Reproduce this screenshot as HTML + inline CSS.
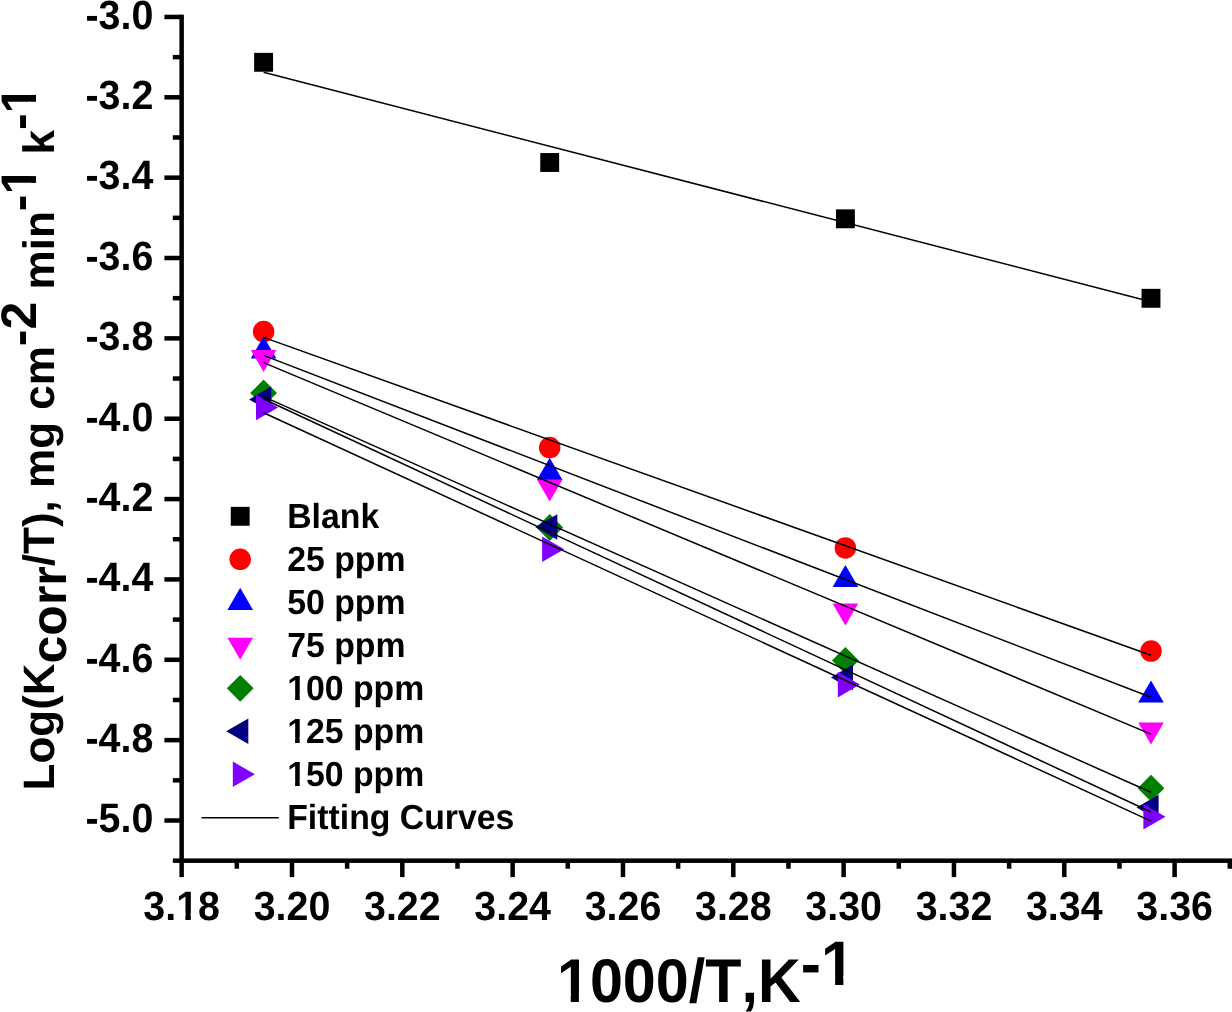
<!DOCTYPE html>
<html lang="en"><head><meta charset="utf-8"><title>Log(Kcorr/T) vs 1000/T</title>
<style>
html,body{margin:0;padding:0;background:#fff;}
body{width:1232px;height:1012px;overflow:hidden;}
svg{display:block;will-change:transform;}
text{font-family:"Liberation Sans", sans-serif;font-weight:bold;fill:#000;font-kerning:none;font-variant-ligatures:none;text-rendering:geometricPrecision;}
.tk{font-size:39.4px;}
.lg{font-size:33.8px;}
</style></head><body>
<svg width="1232" height="1012" viewBox="0 0 1232 1012">
<rect x="0" y="0" width="1232" height="1012" fill="#fff"/>
<g id="markers">
<rect x="254.15" y="52.85" width="18.90" height="18.90" fill="#000"/>
<rect x="540.25" y="153.05" width="18.90" height="18.90" fill="#000"/>
<rect x="835.95" y="209.35" width="18.90" height="18.90" fill="#000"/>
<rect x="1141.55" y="288.85" width="18.90" height="18.90" fill="#000"/>
<circle cx="263.60" cy="331.60" r="10.75" fill="#ff0000"/>
<circle cx="549.70" cy="447.60" r="10.75" fill="#ff0000"/>
<circle cx="845.40" cy="547.90" r="10.75" fill="#ff0000"/>
<circle cx="1151.00" cy="651.10" r="10.75" fill="#ff0000"/>
<polygon points="263.60,336.40 250.80,358.50 276.40,358.50" fill="#0000ff"/>
<polygon points="549.70,457.80 536.90,479.90 562.50,479.90" fill="#0000ff"/>
<polygon points="845.40,564.90 832.60,587.00 858.20,587.00" fill="#0000ff"/>
<polygon points="1151.00,680.50 1138.20,702.60 1163.80,702.60" fill="#0000ff"/>
<polygon points="263.60,372.10 250.80,350.00 276.40,350.00" fill="#ff00ff"/>
<polygon points="549.70,501.60 536.90,479.50 562.50,479.50" fill="#ff00ff"/>
<polygon points="845.40,625.60 832.60,603.50 858.20,603.50" fill="#ff00ff"/>
<polygon points="1151.00,744.60 1138.20,722.50 1163.80,722.50" fill="#ff00ff"/>
<polygon points="263.60,379.60 277.00,393.00 263.60,406.40 250.20,393.00" fill="#008000"/>
<polygon points="549.70,514.10 563.10,527.50 549.70,540.90 536.30,527.50" fill="#008000"/>
<polygon points="845.40,647.10 858.80,660.50 845.40,673.90 832.00,660.50" fill="#008000"/>
<polygon points="1151.00,774.80 1164.40,788.20 1151.00,801.60 1137.60,788.20" fill="#008000"/>
<polygon points="249.10,399.40 271.20,386.60 271.20,412.20" fill="#000080"/>
<polygon points="535.20,527.00 557.30,514.20 557.30,539.80" fill="#000080"/>
<polygon points="830.90,677.40 853.00,664.60 853.00,690.20" fill="#000080"/>
<polygon points="1136.50,807.50 1158.60,794.70 1158.60,820.30" fill="#000080"/>
<polygon points="278.10,407.40 256.00,394.60 256.00,420.20" fill="#8000ff"/>
<polygon points="564.20,549.30 542.10,536.50 542.10,562.10" fill="#8000ff"/>
<polygon points="859.90,684.60 837.80,671.80 837.80,697.40" fill="#8000ff"/>
<polygon points="1165.50,816.80 1143.40,804.00 1143.40,829.60" fill="#8000ff"/>
</g>
<g id="fits" stroke="#000" stroke-width="1.5" stroke-linecap="butt" fill="none">
<line x1="263.60" y1="72.20" x2="1151.00" y2="301.70"/>
<line x1="263.60" y1="337.40" x2="1151.00" y2="655.20"/>
<line x1="263.60" y1="355.40" x2="1151.00" y2="697.30"/>
<line x1="263.60" y1="362.60" x2="1151.00" y2="734.10"/>
<line x1="263.60" y1="396.60" x2="1151.00" y2="792.30"/>
<line x1="263.60" y1="399.00" x2="1151.00" y2="812.00"/>
<line x1="263.60" y1="412.80" x2="1151.00" y2="821.10"/>
</g>
<g id="axes" fill="#000">
<rect x="179.40" y="14.70" width="4.50" height="848.23"/>
<rect x="179.40" y="858.43" width="1052.60" height="4.50"/>
<rect x="164.40" y="14.70" width="17.25" height="4.50"/>
<rect x="172.80" y="54.88" width="8.85" height="4.50"/>
<rect x="164.40" y="95.06" width="17.25" height="4.50"/>
<rect x="172.80" y="135.23" width="8.85" height="4.50"/>
<rect x="164.40" y="175.41" width="17.25" height="4.50"/>
<rect x="172.80" y="215.59" width="8.85" height="4.50"/>
<rect x="164.40" y="255.76" width="17.25" height="4.50"/>
<rect x="172.80" y="295.94" width="8.85" height="4.50"/>
<rect x="164.40" y="336.12" width="17.25" height="4.50"/>
<rect x="172.80" y="376.30" width="8.85" height="4.50"/>
<rect x="164.40" y="416.48" width="17.25" height="4.50"/>
<rect x="172.80" y="456.65" width="8.85" height="4.50"/>
<rect x="164.40" y="496.83" width="17.25" height="4.50"/>
<rect x="172.80" y="537.01" width="8.85" height="4.50"/>
<rect x="164.40" y="577.19" width="17.25" height="4.50"/>
<rect x="172.80" y="617.36" width="8.85" height="4.50"/>
<rect x="164.40" y="657.54" width="17.25" height="4.50"/>
<rect x="172.80" y="697.72" width="8.85" height="4.50"/>
<rect x="164.40" y="737.90" width="17.25" height="4.50"/>
<rect x="172.80" y="778.07" width="8.85" height="4.50"/>
<rect x="164.40" y="818.25" width="17.25" height="4.50"/>
<rect x="172.80" y="858.43" width="8.85" height="4.50"/>
<rect x="179.40" y="860.68" width="4.50" height="16.45"/>
<rect x="234.56" y="860.68" width="4.50" height="8.05"/>
<rect x="289.73" y="860.68" width="4.50" height="16.45"/>
<rect x="344.89" y="860.68" width="4.50" height="8.05"/>
<rect x="400.06" y="860.68" width="4.50" height="16.45"/>
<rect x="455.23" y="860.68" width="4.50" height="8.05"/>
<rect x="510.39" y="860.68" width="4.50" height="16.45"/>
<rect x="565.55" y="860.68" width="4.50" height="8.05"/>
<rect x="620.72" y="860.68" width="4.50" height="16.45"/>
<rect x="675.88" y="860.68" width="4.50" height="8.05"/>
<rect x="731.05" y="860.68" width="4.50" height="16.45"/>
<rect x="786.21" y="860.68" width="4.50" height="8.05"/>
<rect x="841.38" y="860.68" width="4.50" height="16.45"/>
<rect x="896.54" y="860.68" width="4.50" height="8.05"/>
<rect x="951.71" y="860.68" width="4.50" height="16.45"/>
<rect x="1006.88" y="860.68" width="4.50" height="8.05"/>
<rect x="1062.04" y="860.68" width="4.50" height="16.45"/>
<rect x="1117.20" y="860.68" width="4.50" height="8.05"/>
<rect x="1172.37" y="860.68" width="4.50" height="16.45"/>
<rect x="1227.54" y="860.68" width="4.50" height="8.05"/>
</g>
<g id="ylabels" class="tk" text-anchor="end">
<text transform="translate(153.3,28.75) scale(1,1.04)">-3.0</text>
<text transform="translate(153.3,109.11) scale(1,1.04)">-3.2</text>
<text transform="translate(153.3,189.46) scale(1,1.04)">-3.4</text>
<text transform="translate(153.3,269.81) scale(1,1.04)">-3.6</text>
<text transform="translate(153.3,350.17) scale(1,1.04)">-3.8</text>
<text transform="translate(153.3,430.53) scale(1,1.04)">-4.0</text>
<text transform="translate(153.3,510.88) scale(1,1.04)">-4.2</text>
<text transform="translate(153.3,591.24) scale(1,1.04)">-4.4</text>
<text transform="translate(153.3,671.59) scale(1,1.04)">-4.6</text>
<text transform="translate(153.3,751.95) scale(1,1.04)">-4.8</text>
<text transform="translate(153.3,832.30) scale(1,1.04)">-5.0</text>
</g>
<g id="xlabels" class="tk" text-anchor="middle">
<text transform="translate(181.65,919.9) scale(1,1.04)">3.18</text>
<text transform="translate(291.98,919.9) scale(1,1.04)">3.20</text>
<text transform="translate(402.31,919.9) scale(1,1.04)">3.22</text>
<text transform="translate(512.64,919.9) scale(1,1.04)">3.24</text>
<text transform="translate(622.97,919.9) scale(1,1.04)">3.26</text>
<text transform="translate(733.30,919.9) scale(1,1.04)">3.28</text>
<text transform="translate(843.63,919.9) scale(1,1.04)">3.30</text>
<text transform="translate(953.96,919.9) scale(1,1.04)">3.32</text>
<text transform="translate(1064.29,919.9) scale(1,1.04)">3.34</text>
<text transform="translate(1174.62,919.9) scale(1,1.04)">3.36</text>
</g>
<g fill="#fff"><rect x="177.65" y="913.22" width="7.71" height="8.18"/><rect x="190.77" y="913.22" width="7.21" height="8.18"/></g>
<text id="xtitle" transform="translate(556.9,1002.4) scale(1,1.04)" font-size="59.3">1000/T,K<tspan font-size="60.5" dy="-17.2">-1</tspan></text>
<g fill="#fff"><rect x="559.64" y="993.61" width="11.11" height="10.29"/><rect x="578.88" y="993.61" width="10.35" height="10.29"/><rect x="823.78" y="975.59" width="11.31" height="10.42"/><rect x="843.39" y="975.59" width="10.54" height="10.42"/></g>
<text id="ytitle" transform="translate(53.5,790.5) rotate(-90)" font-size="44">Log(K<tspan font-size="50" dy="12">corr</tspan><tspan dy="-12">/T), mg cm</tspan><tspan font-size="50" dy="-17.2">-2</tspan><tspan dy="17.2"> min</tspan><tspan font-size="50" dy="-17.2">-1</tspan><tspan dy="17.2"> k</tspan><tspan font-size="50" dy="-17.2">-1</tspan></text>
<g fill="#fff" transform="translate(53.5,790.5) rotate(-90)"><rect x="598.05" y="-24.80" width="9.52" height="9.10"/><rect x="614.43" y="-24.80" width="8.89" height="9.10"/><rect x="679.21" y="-24.80" width="9.52" height="9.10"/><rect x="695.59" y="-24.80" width="8.89" height="9.10"/></g>
<g id="legend">
<rect x="230.75" y="506.85" width="18.90" height="18.90" fill="#000"/>
<circle cx="240.20" cy="559.30" r="10.75" fill="#ff0000"/>
<polygon points="240.20,587.80 227.40,609.90 253.00,609.90" fill="#0000ff"/>
<polygon points="240.20,659.80 227.40,637.70 253.00,637.70" fill="#ff00ff"/>
<polygon points="240.20,674.90 253.60,688.30 240.20,701.70 226.80,688.30" fill="#008000"/>
<polygon points="226.20,731.30 248.30,718.50 248.30,744.10" fill="#000080"/>
<polygon points="254.90,774.30 232.80,761.50 232.80,787.10" fill="#8000ff"/>
<line x1="201.5" y1="817.7" x2="278.8" y2="817.7" stroke="#000" stroke-width="1.5"/>
<g class="lg">
<text transform="translate(287.2,528.00) scale(1,1.03)">Blank</text>
<text transform="translate(287.2,571.00) scale(1,1.03)">25 ppm</text>
<text transform="translate(287.2,614.00) scale(1,1.03)">50 ppm</text>
<text transform="translate(287.2,657.00) scale(1,1.03)">75 ppm</text>
<text transform="translate(287.2,700.00) scale(1,1.03)">100 ppm</text>
<text transform="translate(287.2,743.00) scale(1,1.03)">125 ppm</text>
<text transform="translate(287.2,786.00) scale(1,1.03)">150 ppm</text>
<text transform="translate(287.2,829.00) scale(1,1.03)">Fitting Curves</text>
</g>
<g fill="#fff"><rect x="288.33" y="693.95" width="6.76" height="7.55"/><rect x="299.73" y="693.95" width="6.33" height="7.55"/><rect x="288.33" y="736.95" width="6.76" height="7.55"/><rect x="299.73" y="736.95" width="6.33" height="7.55"/><rect x="288.33" y="779.95" width="6.76" height="7.55"/><rect x="299.73" y="779.95" width="6.33" height="7.55"/></g>
</g>
</svg>
</body></html>
